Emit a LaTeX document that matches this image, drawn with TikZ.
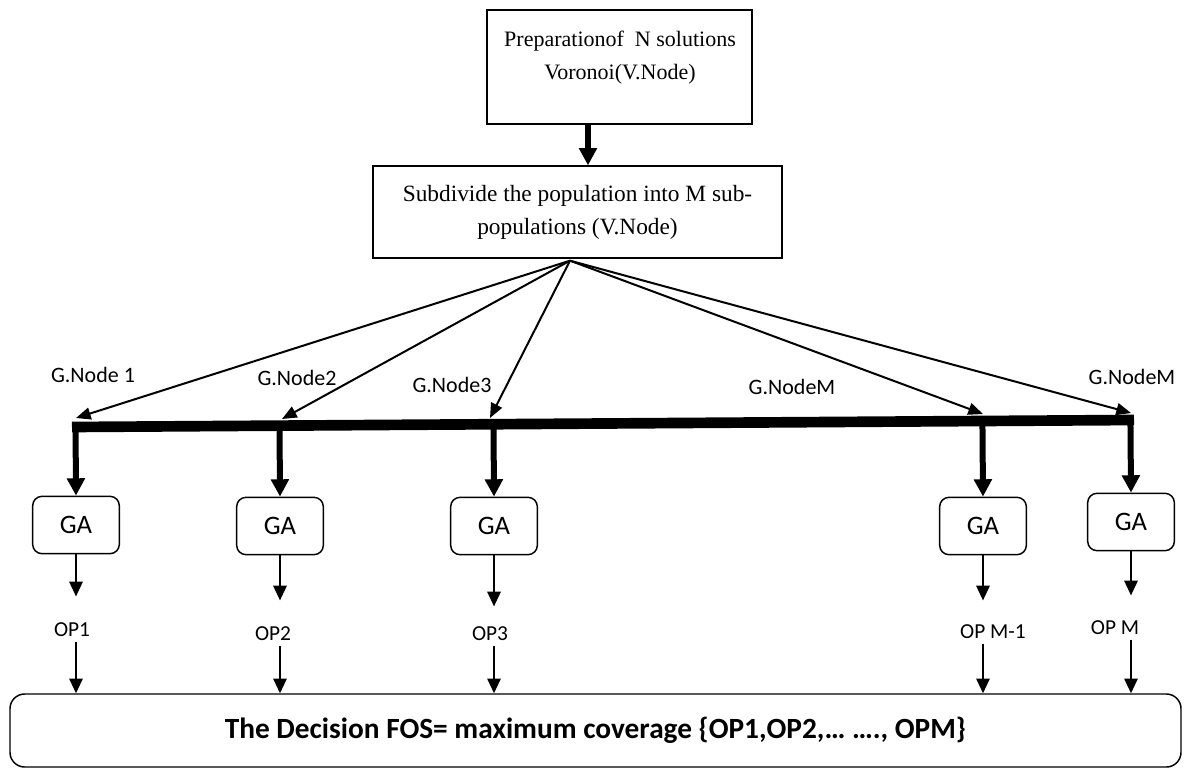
\documentclass[tikz,border=0pt]{standalone}
\usepackage{fontspec}
\setmainfont{Liberation Serif}
\newfontfamily\calfont{Carlito}
\usetikzlibrary{arrows.meta,fit,calc}
\begin{document}
\begin{tikzpicture}[x=0.75pt,y=-0.75pt,
  sqbox/.style={draw,line width=1pt,inner sep=0pt},
  rbox/.style={draw,line width=1.1pt,rounded corners=7pt,inner sep=0pt},
  serif/.style={font=\fontsize{17.5}{24.75}\selectfont,align=center},
  glabel/.style={font=\calfont\fontsize{16.5}{18}\selectfont},
  galabel/.style={font=\calfont\fontsize{20}{22}\selectfont},
  oplabel/.style={font=\calfont\fontsize{16}{18}\selectfont},
  fat/.style={line width=4.5pt,-{Triangle[length=13pt,width=13pt]}},
  fan/.style={line width=1.5pt,-{Triangle[length=11pt,width=9pt]}},
  slim/.style={line width=1.4pt,-{Triangle[length=11pt,width=10pt]}},
]
\useasboundingbox (0,0) rectangle (1190,769);

% top boxes
\node[sqbox,fit={(487,10)(752,124)}] (prep) {};
\node[serif,font=\fontsize{16.5}{24.75}\selectfont] (preptext) at (620,58) {Preparationof\ \ N solutions\\Voronoi(V.Node)};
\node[sqbox,minimum width=306.75pt,minimum height=69pt,serif] (sub) at (577.5,212) {Subdivide the population into M sub-\\populations (V.Node)};
\coordinate (ax) at (588,0);
\draw[fat] (prep.south -| ax) -- (sub.north -| ax);

% fan
\coordinate (src) at ($(sub.south)+(-7.5,2)$);
\coordinate (t1) at (76,418);
\coordinate (t2) at (282,419);
\coordinate (t3) at (490,418);
\coordinate (t4) at (983,414);
\coordinate (t5) at (1131,413);
\foreach \t in {t1,t2,t3,t4,t5}{\draw[fan] (src) -- (\t);}

\node[glabel] (g1) at (93,375) {G.Node 1};
\node[glabel] (g2) at (297,378) {G.Node2};
\node[glabel] (g3) at (452,385) {G.Node3};
\node[glabel] (g4) at (792,387) {G.NodeM};
\node[glabel] (g5) at (1132,377) {G.NodeM};

% bar
\coordinate (bl) at (72,427);
\coordinate (br) at (1134,420);
\draw[line width=8pt] (bl) -- (br);

% GA boxes
\tikzset{gabox/.style={rbox,minimum width=65pt,minimum height=43pt,galabel}}
\node[gabox] (ga1) at (76,525) {GA};
\node[gabox] (ga2) at (280,526) {GA};
\node[gabox] (ga3) at (494,526) {GA};
\node[gabox] (ga4) at (983,526) {GA};
\node[gabox] (ga5) at (1131,522) {GA};
\foreach \g in {ga1,ga2,ga3,ga4,ga5}{\draw[fat] ($(bl)!(\g.north)!(br)$) -- (\g.north);}

% OP labels
\node[oplabel] (op1) at (72,630) {OP1};
\node[oplabel] (op2) at (273,634) {OP2};
\node[oplabel] (op3) at (490,634) {OP3};
\node[oplabel] (op4) at (993,632) {OP M-1};
\node[oplabel] (op5) at (1115,628) {OP M};

\draw[slim] (ga1.south) -- ++(0,42);
\draw[slim] (ga2.south) -- ++(0,45);
\draw[slim] (ga3.south) -- ++(0,51);
\draw[slim] (ga4.south) -- ++(0,45);
\draw[slim] (ga5.south) -- ++(0,44);

% decision
\node[rbox,rounded corners=11pt,minimum width=878.25pt,minimum height=54.75pt,
  font=\calfont\bfseries\fontsize{22}{24}\selectfont] (dec) at (595.5,730.5)
  {The Decision FOS= maximum coverage \{OP1,OP2,… …., OPM\}};

\draw[slim] (op1.south -| ga1.south) -- (ga1.south |- dec.north);
\draw[slim] (op2.south -| ga2.south) -- (ga2.south |- dec.north);
\draw[slim] (op3.south -| ga3.south) -- (ga3.south |- dec.north);
\draw[slim] (op4.south -| ga4.south) -- (ga4.south |- dec.north);
\draw[slim] (op5.south -| ga5.south) -- (ga5.south |- dec.north);
\end{tikzpicture}
\end{document}
